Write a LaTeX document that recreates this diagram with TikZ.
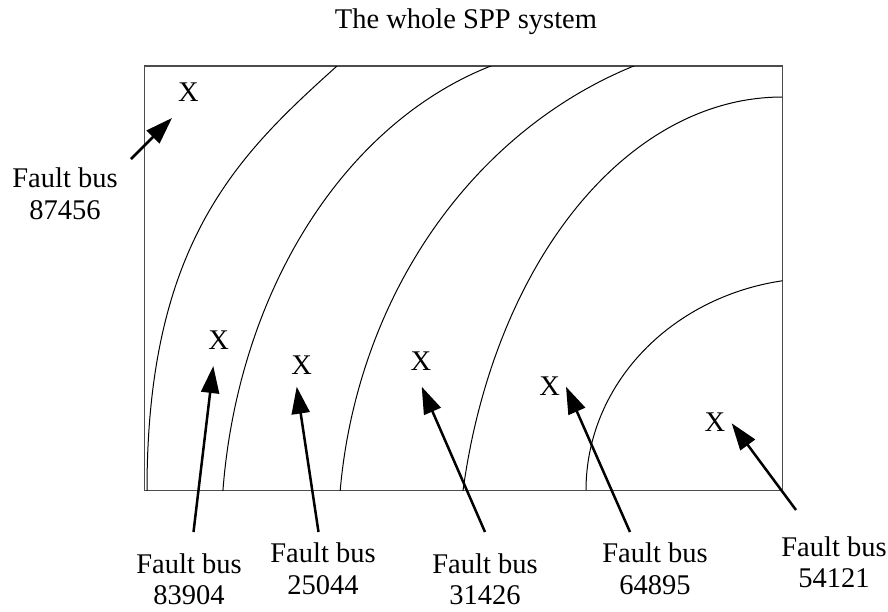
\documentclass[tikz,border=0pt]{standalone}
\usepackage{fontspec}
\setmainfont{Liberation Serif}
\usetikzlibrary{arrows.meta}
\begin{document}
\begin{tikzpicture}[x=1pt,y=-1pt,
  lbl/.style={font=\fontsize{28.5}{31.5}\selectfont, align=center, inner sep=0pt},
  xmark/.style={font=\fontsize{28.5}{31.5}\selectfont, inner sep=0pt},
  arr/.style={line width=2.5pt, -{Triangle[length=27pt,width=18pt]}},
  arcline/.style={line width=1pt},
  frame/.style={draw=black!70, line width=1.3pt}]
\useasboundingbox (0,0) rectangle (888,611);

% title
\node[lbl, anchor=base] (title) at (466,28) {The whole SPP system};

% system boundary
\draw[frame] (144.5,66) rectangle (782.5,490.5);

% zone boundaries
\begin{scope}
\clip (144.5,66) rectangle (782.5,490.5);
\draw[arcline] plot[domain=0:82, samples=90] ({820-234*cos(\x)}, {490-212*sin(\x)});
\draw[arcline] plot[domain=11:90, samples=90] ({782-325.7*cos(\x)}, {590-493*sin(\x)});
\draw[arcline] plot[domain=5:72, samples=90] ({786-448*cos(\x)}, {540-504*sin(\x)});
\draw[arcline] plot[domain=5:74, samples=90] ({600-379*cos(\x)}, {540-495*sin(\x)});
\draw[arcline] (337,66) .. controls (238.5,154.6) and (147,242) .. (147,490) -- (147,495);
\end{scope}

% fault locations
\node[xmark] (x1) at (188.5,92) {X};
\node[xmark] (x2) at (218.7,340) {X};
\node[xmark] (x3) at (301.7,365) {X};
\node[xmark] (x4) at (421,361) {X};
\node[xmark] (x5) at (549.6,386) {X};
\node[xmark] (x6) at (715,422.5) {X};

% labels
\node[lbl] (l1) at (65,193.75) {Fault bus\\87456};
\node[lbl] (l2) at (189,579) {Fault bus\\83904};
\node[lbl] (l3) at (323,568.75) {Fault bus\\25044};
\node[lbl] (l4) at (485,579) {Fault bus\\31426};
\node[lbl] (l5) at (655,568.75) {Fault bus\\64895};
\node[lbl] (l6) at (834,562) {Fault bus\\54121};

% arrow ends
\coordinate (t1) at (131,159);   \coordinate (h1) at (172,118);
\coordinate (t2) at (193.5,532); \coordinate (h2) at (213.3,366);
\coordinate (t3) at (318.5,532); \coordinate (h3) at (296.7,386.7);
\coordinate (t4) at (485,532);   \coordinate (h4) at (421.7,386.7);
\coordinate (t5) at (630,532);   \coordinate (h5) at (566,386.7);
\coordinate (t6) at (796,510);   \coordinate (h6) at (731.7,423.3);

\draw[arr] (t1) -- (h1);
\draw[arr] (t2) -- (h2);
\draw[arr] (t3) -- (h3);
\draw[arr] (t4) -- (h4);
\draw[arr] (t5) -- (h5);
\draw[arr] (t6) -- (h6);
\end{tikzpicture}
\end{document}
